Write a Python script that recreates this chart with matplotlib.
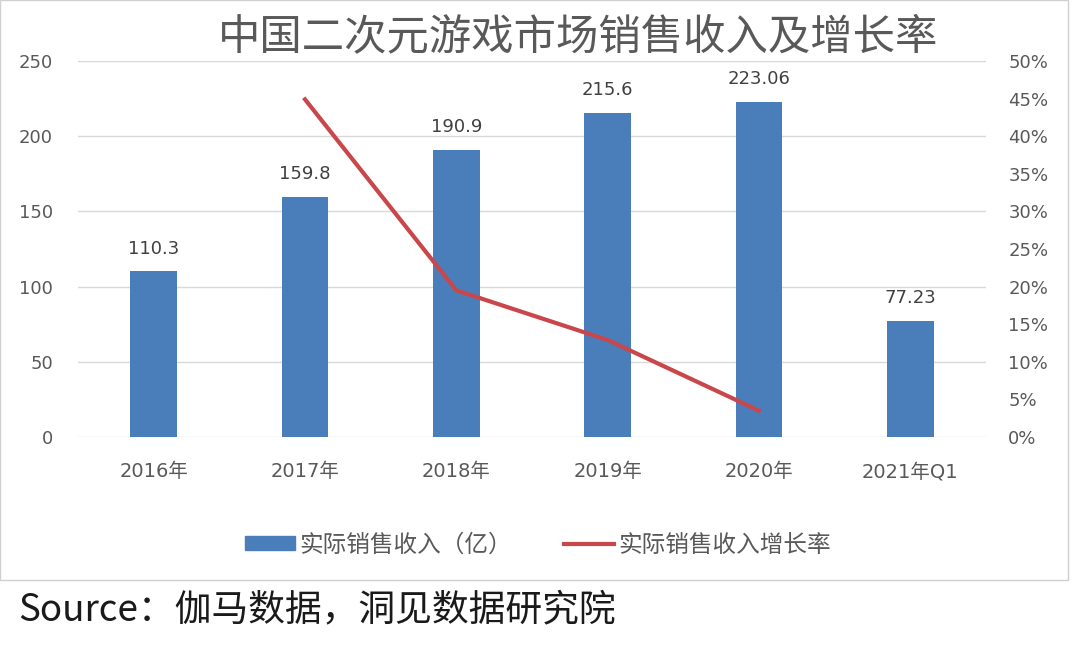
import matplotlib
matplotlib.use("Agg")
import matplotlib.pyplot as plt
from matplotlib.patches import Rectangle
from matplotlib.lines import Line2D
from matplotlib.ticker import FuncFormatter

plt.rcParams['font.family'] = ['DejaVu Sans', 'Noto Sans CJK SC']
CJK = ['Noto Sans CJK SC', 'DejaVu Sans']

categories = ["2016年", "2017年", "2018年", "2019年", "2020年", "2021年Q1"]
revenue = [110.3, 159.8, 190.9, 215.6, 223.06, 77.23]
revenue_labels = ["110.3", "159.8", "190.9", "215.6", "223.06", "77.23"]
growth_categories = ["2017年", "2018年", "2019年", "2020年"]
growth = [0.449, 0.195, 0.129, 0.035]

title = "中国二次元游戏市场销售收入及增长率"
bar_name = "实际销售收入（亿）"
line_name = "实际销售收入增长率"
source = "Source：伽马数据，洞见数据研究院"

bar_color = "#4a7ebb"
line_color = "#c9474a"
text_gray = "#595959"

fig = plt.figure(figsize=(10.8, 6.45), dpi=100)
fig.patch.set_facecolor("white")

# panel frame
fig.patches.append(Rectangle((0.0, 645 - 580), 1068, 580, transform=None,
                             fill=False, edgecolor="#d0d0d0", linewidth=1.0))

ax = fig.add_axes([78 / 1080, 1 - 437 / 645, 908 / 1080, (437 - 61) / 645])
x = list(range(len(categories)))
ax.bar(x, revenue, width=0.31, color=bar_color, zorder=3)
for xi, v, lab in zip(x, revenue, revenue_labels):
    ax.text(xi, v + 9, lab, ha="center", va="bottom", fontsize=13, color="#404040")

ax.set_xlim(-0.5, len(categories) - 0.5)
ax.set_ylim(0, 250)
ax.set_yticks([0, 50, 100, 150, 200, 250])
ax.set_xticks(x)
ax.set_xticklabels(categories, fontsize=14)
ax.grid(axis="y", color="#d9d9d9", linewidth=1.0, zorder=0)
for s in ax.spines.values():
    s.set_visible(False)
ax.tick_params(axis="both", length=0, labelsize=13, labelcolor=text_gray)
ax.tick_params(axis="x", labelsize=14, pad=18)
ax.tick_params(axis="y", pad=18)

ax2 = ax.twinx()
gx = [categories.index(c) for c in growth_categories]
ax2.plot(gx, growth, color=line_color, linewidth=3, zorder=4)
ax2.set_ylim(0, 0.5)
ax2.set_yticks([i * 0.05 for i in range(11)])
ax2.yaxis.set_major_formatter(FuncFormatter(lambda v, p: f"{round(v * 100)}%"))
for s in ax2.spines.values():
    s.set_visible(False)
ax2.tick_params(axis="y", length=0, labelsize=13, labelcolor=text_gray, pad=16)

fig.text(578 / 1080, 1 - 37 / 645, title, ha="center", va="center",
         fontsize=30.5, color=text_gray, family=CJK)

handles = [Rectangle((0, 0), 1, 1, color=bar_color),
           Line2D([0], [0], color=line_color, linewidth=3)]
fig.legend(handles, [bar_name, line_name], loc="center",
           bbox_to_anchor=(538 / 1080, 1 - 545 / 645), ncol=2, frameon=False,
           prop={'family': CJK, 'size': 17}, labelcolor=text_gray,
           handlelength=2.1, columnspacing=2.2, handletextpad=0.2,
           handleheight=0.55)

fig.text(18 / 1080, 1 - 610 / 645, source, ha="left", va="center",
         fontsize=26.5, color="#1a1a1a", family=CJK)

fig.savefig("out.png", dpi=100, facecolor="white")
